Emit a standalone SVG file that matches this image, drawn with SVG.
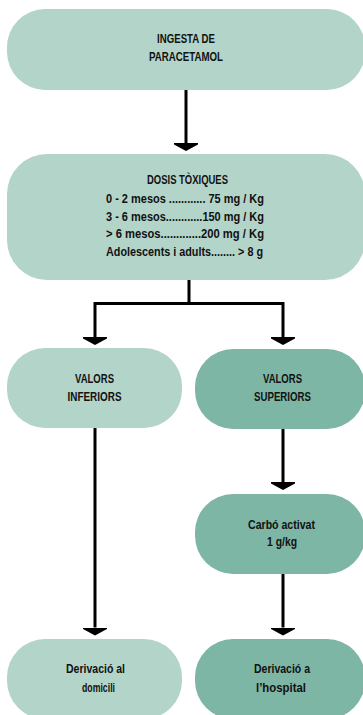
<svg xmlns="http://www.w3.org/2000/svg" width="363" height="715" viewBox="0 0 363 715">
  <style>
    .light { fill: #b3d4c9; }
    .dark { fill: #7db6a5; }
    text { font-family: "Liberation Sans", Arial, sans-serif; font-weight: bold; font-size: 13px; fill: #111; text-anchor: middle; }
    .dose { font-size: 12px; text-anchor: start; }
    .wire { fill: none; stroke: #000; stroke-width: 3; }
  </style>
  <defs>
    <!-- flat-topped arrowhead, 24 wide and 8 deep, placed past the end of each wire -->
    <marker id="head" viewBox="0 0 8 24" refX="0" refY="12" markerWidth="8" markerHeight="24" markerUnits="userSpaceOnUse" orient="auto">
      <path d="M0,0 L1.5,0 L8,12 L1.5,24 L0,24 Z" fill="#000"/>
    </marker>
  </defs>
  <rect width="363" height="715" fill="#fff"/>

  <g id="connectors">
    <path class="wire" d="M186,90 V143" marker-end="url(#head)"/>
    <path class="wire" d="M189,280 V303.5 M95,303.5 H283" />
    <path class="wire" d="M95,302 V337" marker-end="url(#head)"/>
    <path class="wire" d="M283,302 V337" marker-end="url(#head)"/>
    <path class="wire" d="M95,428 V627.5" marker-end="url(#head)"/>
    <path class="wire" d="M283,428 V482" marker-end="url(#head)"/>
    <path class="wire" d="M283,574 V627.5" marker-end="url(#head)"/>
  </g>

  <g id="ingesta">
    <rect class="light" x="7" y="9" width="358" height="81" rx="38"/>
    <text x="186" y="43" textLength="58" lengthAdjust="spacingAndGlyphs">INGESTA DE</text>
    <text x="186" y="61" textLength="74" lengthAdjust="spacingAndGlyphs">PARACETAMOL</text>
  </g>

  <g id="dosis">
    <rect class="light" x="7" y="154" width="358" height="126" rx="40"/>
    <text x="187.5" y="184" textLength="81" lengthAdjust="spacingAndGlyphs">DOSIS TÒXIQUES</text>
    <text class="dose" x="106" y="203" textLength="158" lengthAdjust="spacingAndGlyphs">0 - 2 mesos  ............ 75 mg / Kg</text>
    <text class="dose" x="106" y="220.5" textLength="158" lengthAdjust="spacingAndGlyphs">3 - 6 mesos............150 mg / Kg</text>
    <text class="dose" x="106" y="238" textLength="158" lengthAdjust="spacingAndGlyphs">&gt; 6 mesos.............200 mg / Kg</text>
    <text class="dose" x="106" y="255.5" textLength="157" lengthAdjust="spacingAndGlyphs">Adolescents i adults........ &gt; 8 g</text>
  </g>

  <g id="valors-inferiors">
    <rect class="light" x="7" y="348" width="175" height="80" rx="38"/>
    <text x="94.5" y="383" textLength="39" lengthAdjust="spacingAndGlyphs">VALORS</text>
    <text x="94.5" y="401" textLength="54" lengthAdjust="spacingAndGlyphs">INFERIORS</text>
  </g>

  <g id="valors-superiors">
    <rect class="dark" x="195" y="349" width="170" height="80" rx="38"/>
    <text x="282.5" y="383" textLength="39" lengthAdjust="spacingAndGlyphs">VALORS</text>
    <text x="282.5" y="401" textLength="57" lengthAdjust="spacingAndGlyphs">SUPERIORS</text>
  </g>

  <g id="carbo">
    <rect class="dark" x="195" y="494" width="170" height="80" rx="38"/>
    <text x="281.5" y="529" textLength="67" lengthAdjust="spacingAndGlyphs">Carbó activat</text>
    <text x="282" y="546" textLength="30" lengthAdjust="spacingAndGlyphs">1 g/kg</text>
  </g>

  <g id="domicili">
    <rect class="light" x="7" y="639" width="175" height="80" rx="38"/>
    <text x="95.5" y="673" textLength="59" lengthAdjust="spacingAndGlyphs">Derivació al</text>
    <text x="98.5" y="692" textLength="33" lengthAdjust="spacingAndGlyphs">domicili</text>
  </g>

  <g id="hospital">
    <rect class="dark" x="195" y="639" width="170" height="80" rx="38"/>
    <text x="282" y="673" textLength="56" lengthAdjust="spacingAndGlyphs">Derivació a</text>
    <text x="281" y="692" textLength="50" lengthAdjust="spacingAndGlyphs">l’hospital</text>
  </g>
</svg>
